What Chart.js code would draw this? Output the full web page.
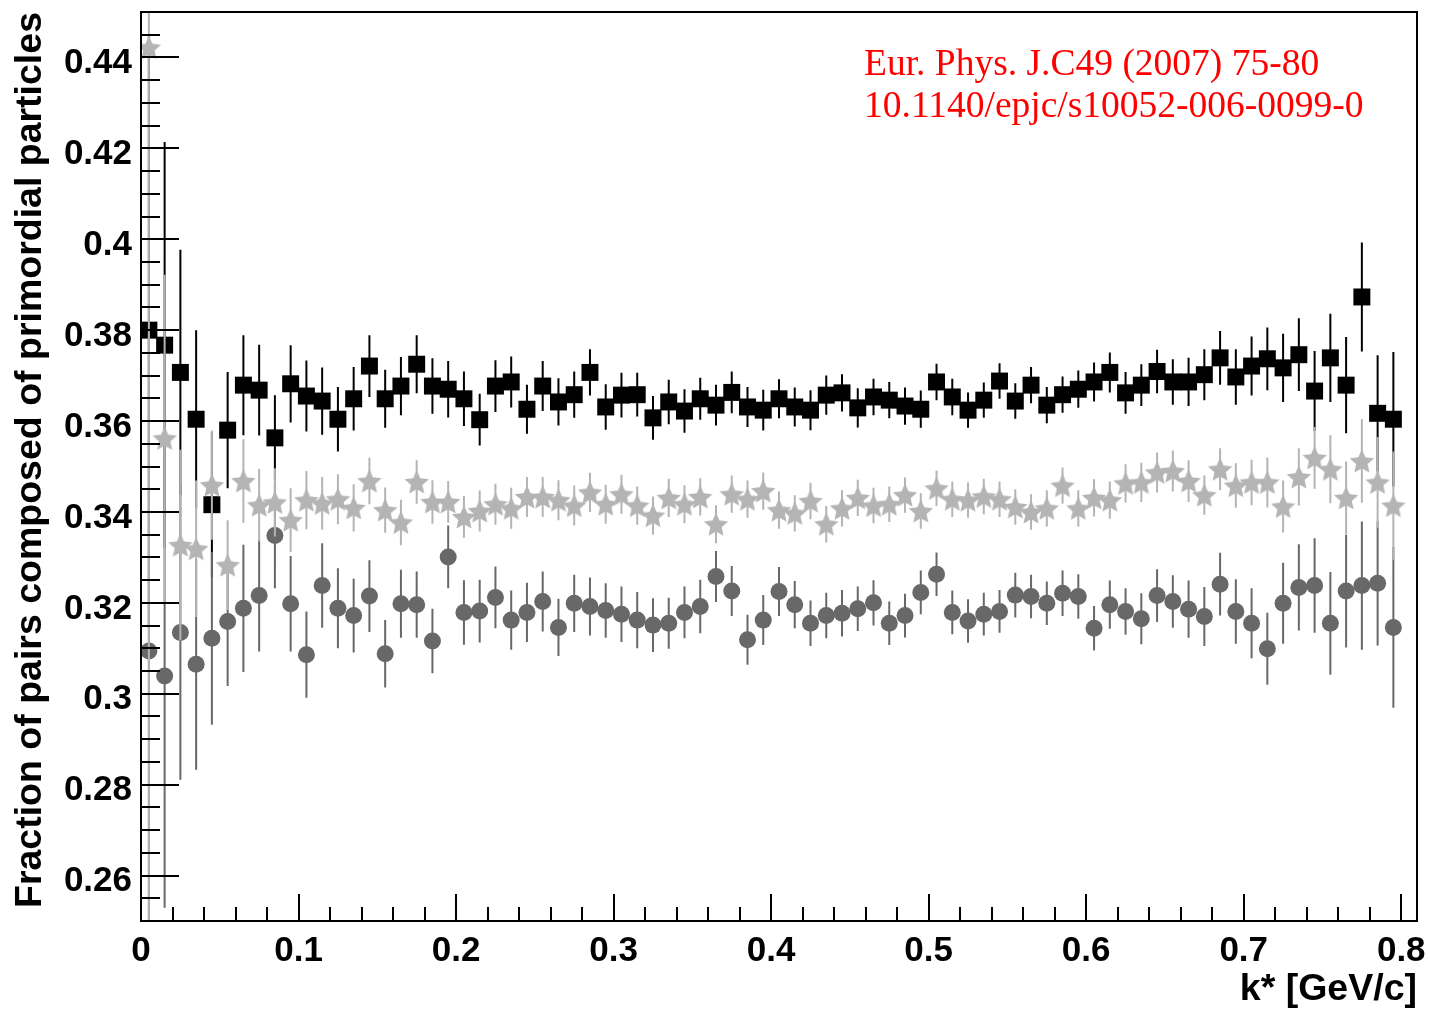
<!DOCTYPE html>
<html>
<head>
<meta charset="utf-8">
<title>Fraction of primordial pairs vs k*</title>
<style>
  html, body { margin: 0; padding: 0; background: #fff; }
  canvas { display: block; }
</style>
<script src="https://cdn.jsdelivr.net/npm/chart.js@4.4.1/dist/chart.umd.min.js"></script>
</head>
<body>
<canvas id="chart" width="1430" height="1009"></canvas>
<script>
// Bin centres of k* [GeV/c], 0.01 GeV/c wide bins
const kBins = [
  0.005, 0.015, 0.025, 0.035, 0.045, 0.055, 0.065, 0.075, 0.085, 0.095,
  0.105, 0.115, 0.125, 0.135, 0.145, 0.155, 0.165, 0.175, 0.185, 0.195,
  0.205, 0.215, 0.225, 0.235, 0.245, 0.255, 0.265, 0.275, 0.285, 0.295,
  0.305, 0.315, 0.325, 0.335, 0.345, 0.355, 0.365, 0.375, 0.385, 0.395,
  0.405, 0.415, 0.425, 0.435, 0.445, 0.455, 0.465, 0.475, 0.485, 0.495,
  0.505, 0.515, 0.525, 0.535, 0.545, 0.555, 0.565, 0.575, 0.585, 0.595,
  0.605, 0.615, 0.625, 0.635, 0.645, 0.655, 0.665, 0.675, 0.685, 0.695,
  0.705, 0.715, 0.725, 0.735, 0.745, 0.755, 0.765, 0.775, 0.785, 0.795
];

// Black squares
const fracSquares = [
  0.3800, 0.3767, 0.3707, 0.3604, 0.3416, 0.3580, 0.3679, 0.3668, 0.3563, 0.3682,
  0.3655, 0.3644, 0.3604, 0.3649, 0.3721, 0.3649, 0.3677, 0.3725, 0.3677, 0.3670,
  0.3649, 0.3603, 0.3677, 0.3686, 0.3626, 0.3677, 0.3642, 0.3658, 0.3707, 0.3631,
  0.3657, 0.3658, 0.3607, 0.3642, 0.3622, 0.3649, 0.3635, 0.3663, 0.3631, 0.3624,
  0.3649, 0.3631, 0.3624, 0.3657, 0.3662, 0.3629, 0.3653, 0.3646, 0.3633, 0.3626,
  0.3686, 0.3653, 0.3624, 0.3646, 0.3688, 0.3644, 0.3679, 0.3635, 0.3658, 0.3670,
  0.3686, 0.3707, 0.3662, 0.3679, 0.3709, 0.3686, 0.3686, 0.3702, 0.3739, 0.3697,
  0.3721, 0.3737, 0.3717, 0.3746, 0.3666, 0.3739, 0.3679, 0.3873, 0.3617, 0.3604
];
const errSquares = [
  0.065, 0.0447, 0.027, 0.0196, 0.016, 0.0128, 0.011, 0.010, 0.0094, 0.0085,
  0.0078, 0.0074, 0.0071, 0.0070, 0.0068, 0.0064, 0.0064, 0.0064, 0.0061, 0.0062,
  0.0060, 0.0057, 0.0057, 0.0056, 0.0054, 0.0055, 0.0052, 0.0051, 0.0051, 0.0050,
  0.0049, 0.0048, 0.0048, 0.0049, 0.0048, 0.0046, 0.0045, 0.0046, 0.0044, 0.0045,
  0.0043, 0.0043, 0.0044, 0.0043, 0.0041, 0.0043, 0.0040, 0.0040, 0.0041, 0.0041,
  0.0040, 0.0040, 0.0039, 0.0039, 0.0039, 0.0039, 0.0040, 0.0040, 0.0040, 0.0041,
  0.0043, 0.0044, 0.0046, 0.0046, 0.0048, 0.0050, 0.0053, 0.0056, 0.0059, 0.0061,
  0.0065, 0.0069, 0.0075, 0.0080, 0.0088, 0.0097, 0.0106, 0.0120, 0.0128, 0.0148
];

// Light grey stars
const fracStars = [
  0.4422, 0.3562, 0.3327, 0.3319, 0.3459, 0.3283, 0.3468, 0.3415, 0.3421, 0.3382,
  0.3426, 0.3419, 0.3428, 0.3409, 0.3468, 0.3404, 0.3377, 0.3466, 0.3422, 0.3422,
  0.3389, 0.3402, 0.3417, 0.3408, 0.3433, 0.3433, 0.3426, 0.3414, 0.3443, 0.3417,
  0.3439, 0.3414, 0.3392, 0.3431, 0.3417, 0.3433, 0.3373, 0.3439, 0.3428, 0.3446,
  0.3404, 0.3397, 0.3424, 0.3373, 0.3408, 0.3431, 0.3414, 0.3417, 0.3437, 0.3402,
  0.3452, 0.3428, 0.3426, 0.3434, 0.3428, 0.3411, 0.3400, 0.3408, 0.3458, 0.3408,
  0.3431, 0.3426, 0.3463, 0.3465, 0.3487, 0.3490, 0.3468, 0.3437, 0.3494, 0.3458,
  0.3465, 0.3465, 0.3412, 0.3477, 0.3519, 0.3494, 0.3431, 0.3512, 0.3465, 0.3414
];
const errStars = [
  0.2, 0.036, 0.021, 0.015, 0.012, 0.0099, 0.0092, 0.0080, 0.0075, 0.0070,
  0.0064, 0.0058, 0.0055, 0.0052, 0.0051, 0.0050, 0.0050, 0.0048, 0.0048, 0.0046,
  0.0046, 0.0045, 0.0045, 0.0045, 0.0044, 0.0044, 0.0044, 0.0044, 0.0043, 0.0043,
  0.0043, 0.0042, 0.0042, 0.0042, 0.0042, 0.0041, 0.0042, 0.0041, 0.0041, 0.0041,
  0.0041, 0.0040, 0.0040, 0.0040, 0.0040, 0.0040, 0.0039, 0.0039, 0.0039, 0.0039,
  0.0039, 0.0039, 0.0039, 0.0039, 0.0039, 0.0039, 0.0039, 0.0040, 0.0040, 0.0040,
  0.0041, 0.0041, 0.0042, 0.0043, 0.0044, 0.0045, 0.0046, 0.0043, 0.0046, 0.0049,
  0.0050, 0.0055, 0.0057, 0.0063, 0.0068, 0.0075, 0.0080, 0.0092, 0.0100, 0.0119
];

// Dark grey circles
const fracCircles = [
  0.3094, 0.3039, 0.3135, 0.3065, 0.3122, 0.3159, 0.3188, 0.3216, 0.3348, 0.3198,
  0.3086, 0.3238, 0.3188, 0.3172, 0.3215, 0.3088, 0.3198, 0.3196, 0.3116, 0.3301,
  0.3179, 0.3182, 0.3212, 0.3162, 0.3179, 0.3203, 0.3146, 0.3199, 0.3192, 0.3183,
  0.3175, 0.3162, 0.3151, 0.3155, 0.3179, 0.3192, 0.3258, 0.3226, 0.3119, 0.3162,
  0.3225, 0.3196, 0.3155, 0.3172, 0.3177, 0.3187, 0.3200, 0.3155, 0.3172, 0.3223,
  0.3263, 0.3179, 0.3160, 0.3175, 0.3181, 0.3217, 0.3214, 0.3199, 0.3221, 0.3214,
  0.3144, 0.3196, 0.3181, 0.3165, 0.3216, 0.3203, 0.3186, 0.3170, 0.3241, 0.3181,
  0.3155, 0.3099, 0.3199, 0.3234, 0.3238, 0.3155, 0.3226, 0.3238, 0.3243, 0.3146
];
const errCircles = [
  0.070, 0.051, 0.0324, 0.0232, 0.019, 0.0142, 0.0140, 0.0123, 0.0116, 0.0105,
  0.0095, 0.0093, 0.0088, 0.0081, 0.0079, 0.0074, 0.0075, 0.0073, 0.0071, 0.0069,
  0.0071, 0.0069, 0.0068, 0.0065, 0.0065, 0.0066, 0.0063, 0.0063, 0.0064, 0.0060,
  0.0061, 0.0062, 0.0059, 0.0056, 0.0057, 0.0059, 0.0056, 0.0055, 0.0055, 0.0055,
  0.0054, 0.0052, 0.0050, 0.0050, 0.0051, 0.0049, 0.0050, 0.0048, 0.0048, 0.0048,
  0.0048, 0.0048, 0.0048, 0.0047, 0.0047, 0.0049, 0.0048, 0.0048, 0.0050, 0.0049,
  0.0049, 0.0053, 0.0051, 0.0056, 0.0058, 0.0058, 0.0063, 0.0065, 0.0069, 0.0071,
  0.0077, 0.0079, 0.0089, 0.0095, 0.0104, 0.0113, 0.0124, 0.0141, 0.0137, 0.0177
];

const xTickLabels = ['0', '0.1', '0.2', '0.3', '0.4', '0.5', '0.6', '0.7', '0.8'];
const yTickLabels = ['0.26', '0.28', '0.3', '0.32', '0.34', '0.36', '0.38', '0.4', '0.42', '0.44'];
const xTitle = 'k* [GeV/c]';
const yTitle = 'Fraction of pairs composed of primordial particles';
const citeLines = ['Eur. Phys. J.C49 (2007) 75-80', '10.1140/epjc/s10052-006-0099-0'];

// ---- styling ----
const SANS = '"Liberation Sans", Arial, Helvetica, sans-serif';
const SERIF = '"Liberation Serif", "Times New Roman", serif';
const COL_SQUARE = '#000000';
const COL_STAR = '#b4b4b4';
const COL_CIRCLE = '#686868';
const X_MINOR = 0.02, Y_MINOR = 0.005;

function starImage(size, outer, innerRatio, color) {
  const c = document.createElement('canvas');
  c.width = c.height = size;
  const g = c.getContext('2d');
  const cx = size / 2, cy = size / 2 + outer * 0.09;
  g.beginPath();
  for (let k = 0; k < 10; k++) {
    const r = k % 2 ? outer * innerRatio : outer;
    const a = -Math.PI / 2 + k * Math.PI / 5;
    g.lineTo(cx + r * Math.cos(a), cy + r * Math.sin(a));
  }
  g.closePath();
  g.fillStyle = color;
  g.fill();
  return c;
}
const starMarker = starImage(28, 12.8, 0.47, COL_STAR);

const toPoints = (ys) => kBins.map((x, i) => ({ x, y: ys[i] }));

// Vertical error bars, drawn just under each dataset's markers
const errorBarPlugin = {
  id: 'errorBars',
  beforeDatasetDraw(chart, args) {
    const ds = chart.data.datasets[args.index];
    if (!ds.errors) return;
    const { ctx, chartArea: a, scales: { x, y } } = chart;
    ctx.save();
    ctx.beginPath();
    ctx.rect(a.left, a.top, a.right - a.left, a.bottom - a.top);
    ctx.clip();
    ctx.strokeStyle = ds.errorColor;
    ctx.lineWidth = 2;
    ctx.beginPath();
    ds.data.forEach((p, i) => {
      const px = x.getPixelForValue(p.x);
      ctx.moveTo(px, y.getPixelForValue(p.y - ds.errors[i]));
      ctx.lineTo(px, y.getPixelForValue(p.y + ds.errors[i]));
    });
    ctx.stroke();
    ctx.restore();
  }
};

// Frame with inward ticks on the left and bottom axes
const framePlugin = {
  id: 'frame',
  afterDraw(chart) {
    const { ctx, chartArea: a, scales: { x, y } } = chart;
    ctx.save();
    ctx.strokeStyle = '#000';
    ctx.lineWidth = 2;
    ctx.strokeRect(a.left, a.top, a.right - a.left, a.bottom - a.top);
    ctx.beginPath();
    const yMajors = yTickLabels.map(Number);
    const nY = Math.round((y.max - y.min) / Y_MINOR);
    for (let k = 0; k <= nY; k++) {
      const v = y.min + k * Y_MINOR;
      const major = yMajors.some(m => Math.abs(m - v) < 1e-6);
      const py = Math.round(y.getPixelForValue(v));
      ctx.moveTo(a.left, py);
      ctx.lineTo(a.left + (major ? 38 : 19), py);
    }
    const xMajors = xTickLabels.map(Number);
    const nX = Math.floor((x.max - x.min) / X_MINOR + 1e-6);
    for (let k = 0; k <= nX; k++) {
      const v = x.min + k * X_MINOR;
      const major = xMajors.some(m => Math.abs(m - v) < 1e-6);
      const px = Math.round(x.getPixelForValue(v));
      ctx.moveTo(px, a.bottom);
      ctx.lineTo(px, a.bottom - (major ? 27 : 14));
    }
    ctx.stroke();

    // citation note
    ctx.fillStyle = '#ff0000';
    ctx.font = '37.5px ' + SERIF;
    ctx.textAlign = 'left';
    ctx.textBaseline = 'alphabetic';
    ctx.fillText(citeLines[0], 864, 75);
    ctx.fillText(citeLines[1], 864, 117);
    ctx.restore();
  }
};

const tickFont = { family: SANS, size: 35, weight: 'bold' };
const titleFont = { family: SANS, size: 37.5, weight: 'bold' };

new Chart(document.getElementById('chart'), {
  type: 'scatter',
  data: {
    datasets: [
      {
        label: 'stars', data: toPoints(fracStars), errors: errStars, errorColor: COL_STAR,
        pointStyle: starMarker, pointRadius: 12, pointBorderWidth: 0
      },
      {
        label: 'circles', data: toPoints(fracCircles), errors: errCircles, errorColor: COL_CIRCLE,
        pointStyle: 'circle', pointRadius: 8.5, pointBorderWidth: 0,
        pointBackgroundColor: COL_CIRCLE, pointBorderColor: COL_CIRCLE
      },
      {
        label: 'squares', data: toPoints(fracSquares), errors: errSquares, errorColor: COL_SQUARE,
        pointStyle: 'rect', pointRadius: 12, pointBorderWidth: 0,
        pointBackgroundColor: COL_SQUARE, pointBorderColor: COL_SQUARE
      }
    ]
  },
  options: {
    responsive: false,
    animation: false,
    events: [],
    devicePixelRatio: 1,
    layout: { padding: { top: 10, right: 13, left: 0, bottom: 0 } },
    plugins: { legend: { display: false }, tooltip: { enabled: false } },
    scales: {
      x: {
        type: 'linear', min: 0, max: 0.81,
        afterBuildTicks: s => { s.ticks = xTickLabels.map(t => ({ value: Number(t) })); },
        afterFit: s => { s.height = 88; s.paddingLeft = 0; s.paddingRight = 0; },
        grid: { display: false, drawTicks: false },
        border: { display: false },
        ticks: {
          callback: (v, i) => xTickLabels[i], font: tickFont, color: '#000',
          padding: 9, maxRotation: 0, autoSkip: false
        },
        title: {
          display: true, text: xTitle, align: 'end', color: '#000', font: titleFont,
          padding: { top: 0, bottom: -3 }
        }
      },
      y: {
        type: 'linear', min: 0.25, max: 0.45,
        afterBuildTicks: s => { s.ticks = yTickLabels.map(t => ({ value: Number(t) })); },
        afterFit: s => { s.width = 141; s.paddingTop = 0; s.paddingBottom = 0; },
        grid: { display: false, drawTicks: false },
        border: { display: false },
        ticks: {
          callback: (v, i) => yTickLabels[i], font: tickFont, color: '#000',
          padding: 9, labelOffset: 6, autoSkip: false
        },
        title: {
          display: true, text: yTitle, align: 'end', color: '#000', font: titleFont,
          padding: { top: 8, bottom: 0 }
        }
      }
    }
  },
  plugins: [errorBarPlugin, framePlugin]
});
</script>
</body>
</html>
